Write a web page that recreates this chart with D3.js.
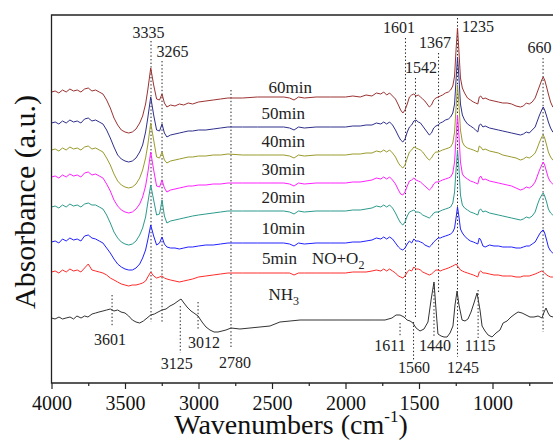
<!DOCTYPE html>
<html>
<head>
<meta charset="utf-8">
<script src="https://cdn.jsdelivr.net/npm/d3@7"></script>
<style>
  body { margin: 0; background: #fff; }
  svg { display: block; font-family: "Liberation Serif", "Times New Roman", serif; }
</style>
</head>
<body>
<svg id="chart" width="553" height="441"></svg>
<script>
// wavenumber grid shared by the NO+O2 time series (cm-1)
const wnTime = [4000,3975,3950,3925,3900,3875,3850,3825,3800,3775,3750,3725,3700,3675,3650,3625,3600,3575,3550,3525,
  3500,3475,3450,3425,3400,3380,3360,3345,3325,3305,3285,3265,3248,3232,3215,3190,3160,3130,3100,3070,
  3040,3000,2950,2900,2850,2800,2700,2600,2500,2420,2380,2350,2320,2280,2200,2100,2000,1950,1900,1860,
  1820,1790,1760,1740,1720,1700,1680,1660,1640,1625,1610,1595,1580,1565,1550,1535,1520,1505,1490,1475,
  1460,1445,1430,1415,1400,1385,1370,1355,1340,1320,1300,1285,1270,1258,1248,1238,1228,1218,1205,1190,
  1170,1150,1130,1115,1100,1090,1080,1065,1050,1020,990,960,930,900,870,840,810,790,770,750,
  730,710,695,680,665,655,645,632,620,605,590,575];

// absorbance (a.u., offset stacked)
const abs60 = [291,292,290,293,291,294,292,293,291,294,295,292,293,291,289,283,275,265,258,253,
  251,250,251,254,260,267,279,293,315,298,284,283,289,280,276,278,277,279,278,280,
  279,281,282,283,284,285,285,286,286,286,285,283,286,285,286,286,286,287,286,288,
  287,290,289,291,288,290,287,284,278,273,270,273,279,286,288,289,287,288,286,284,
  282,279,276,278,283,285,286,287,288,290,291,293,297,307,333,355,331,305,295,290,
  285,283,281,280,279,286,287,284,285,283,282,281,280,280,279,277,276,277,280,279,
  281,285,291,297,303,306,303,296,289,281,276,275];
const abs50 = [260,261,259,262,260,263,261,262,260,264,265,262,263,261,259,253,245,236,228,224,
  222,221,222,225,231,238,251,265,286,268,253,252,259,250,246,248,249,250,251,252,
  252,253,253,254,255,256,256,256,256,256,255,253,256,255,256,256,256,257,257,258,
  258,260,259,261,259,261,258,253,247,243,241,244,251,256,258,262,263,261,260,257,
  254,251,248,250,255,257,258,260,261,263,264,266,270,279,303,326,305,279,268,263,
  259,257,255,253,251,258,259,256,257,255,254,253,252,251,250,249,248,249,251,250,
  253,256,262,268,273,276,273,267,261,255,251,250];
const abs40 = [233,234,232,235,233,236,234,235,233,236,237,234,235,233,231,225,218,209,202,198,
  196,195,196,199,205,213,225,238,260,243,226,225,231,223,220,222,223,224,225,226,
  226,227,227,228,228,229,228,228,228,228,227,225,228,227,228,228,228,229,229,230,
  230,232,231,233,231,233,230,226,220,217,215,218,225,231,233,236,235,234,233,231,
  228,225,223,225,229,231,231,232,233,234,235,236,240,251,275,298,278,253,241,237,
  235,234,233,232,231,237,236,233,234,232,231,230,228,227,226,225,223,224,226,225,
  227,230,235,241,246,248,245,238,231,226,223,222];
const abs30 = [206,207,205,208,206,209,207,208,206,210,211,208,209,207,205,199,192,183,177,173,
  171,170,171,174,179,186,197,210,231,213,197,196,203,195,191,193,194,195,196,197,
  197,198,198,199,199,200,200,200,200,200,199,197,200,199,200,200,200,201,201,202,
  203,205,204,206,204,206,203,199,193,189,188,191,197,202,203,205,203,202,201,199,
  197,195,193,195,199,201,201,202,203,204,205,206,210,221,245,268,247,221,209,206,
  204,202,201,200,199,205,207,203,204,202,201,200,199,198,197,195,193,194,196,195,
  197,201,207,213,218,221,218,211,205,201,199,198];
const abs20 = [176,177,175,178,176,179,177,178,176,179,180,178,178,176,174,168,160,151,145,141,
  139,138,139,142,148,155,166,180,198,183,168,169,183,167,160,162,163,164,165,166,
  167,168,169,170,171,172,172,172,172,172,171,169,172,171,172,172,172,173,173,174,
  175,177,176,178,176,178,175,170,164,160,158,161,167,171,172,173,171,171,170,168,
  167,166,165,167,170,171,171,172,173,174,175,176,180,191,213,233,215,188,178,175,
  173,171,170,169,168,173,174,171,172,170,169,168,167,166,165,164,163,164,166,165,
  167,171,178,184,188,190,187,181,174,170,168,167];
const abs10 = [141,142,140,144,142,145,143,144,142,147,148,145,144,142,140,135,130,124,119,116,
  114,113,113,115,119,125,133,143,158,147,138,140,146,139,136,135,135,134,135,136,
  136,137,138,138,139,140,140,140,140,140,139,137,140,139,140,140,140,141,141,142,
  143,145,144,146,144,146,144,140,136,134,133,135,139,142,140,144,142,142,141,140,
  138,137,136,138,141,143,145,145,146,147,148,149,151,155,165,176,166,154,150,147,
  144,142,141,140,139,145,143,137,136,138,137,137,136,136,136,135,135,136,137,137,
  139,141,145,149,152,153,150,143,136,132,130,129];
const abs5 = [111,112,110,113,111,114,112,113,111,115,119,113,112,111,110,108,105,103,101,99,
  98,97,98,98,99,100,102,106,111,107,105,106,107,105,104,103,102,101,102,103,
  104,106,107,108,109,110,110,110,110,110,110,108,110,110,110,110,110,111,111,111,
  112,113,112,114,112,114,112,110,107,106,105,107,111,113,112,116,114,114,113,111,
  110,109,108,109,111,113,113,112,113,114,115,116,117,118,119,117,115,113,112,111,
  110,109,108,107,106,111,112,110,110,109,108,108,107,107,107,106,106,107,107,107,
  108,109,110,111,112,111,110,108,107,106,106,106];

// reference NH3 spectrum, own wavenumber grid
const wnNH3 = [4000,3976,3949,3925,3901,3874,3850,3827,3799,3775,3752,3724,3700,3677,3650,3625,3600,3575,3550,3527,
  3500,3475,3450,3425,3400,3375,3350,3325,3300,3275,3248,3221,3194,3167,3139,3119,3099,3078,3051,3031,
  3003,2976,2949,2922,2894,2867,2840,2813,2779,2718,2650,2582,2514,2446,2377,2309,2173,2037,1901,1799,
  1731,1684,1656,1629,1602,1581,1561,1541,1520,1493,1466,1439,1418,1398,1384,1371,1350,1330,1309,1289,
  1269,1255,1241,1228,1207,1187,1167,1146,1126,1105,1085,1071,1051,1030,1003,976,949,928,901,874,
  847,826,799,772,745,718,690,663,649,636,622,609,588];
const absNH3 = [65,64,66,64,65,66,64,67,65,67,66,69,70,71,72,73,74,72,73,71,
  70,67,63,61,60,62,65,68,69,71,73,74,77,79,82,84,80,76,72,70,
  67,61,56,53,51,51,52,53,55,54,55,56,57,61,62,63,63,63,63,63,
  63,65,68,68,66,63,62,60,55,52,54,61,83,101,73,49,47,46,46,50,
  57,78,92,78,63,62,64,71,80,90,73,57,52,48,46,50,53,60,62,66,
  69,71,70,68,66,66,67,65,71,75,70,67,66];

const seriesNames = ["60min", "50min", "40min", "30min", "20min", "10min", "5min", "NH3"];
const seriesValues = [abs60, abs50, abs40, abs30, abs20, abs10, abs5, absNH3];
const seriesColors = ["#9c3232", "#2f2f8c", "#9a9a2c", "#ff20ff", "#2b9a8c", "#2020ff", "#ff2a2a", "#333333"];

const majorTicks = [4000, 3500, 3000, 2500, 2000, 1500, 1000];
const minorTicks = [3750, 3250, 2750, 2250, 1750, 1250, 750];

// peak marks: text, where the dotted line sits (cm-1)
const peakText = ["3335", "3265", "2780", "1601", "1542", "1367", "1235", "660",
  "3601", "3125", "3012", "1611", "1560", "1440", "1245", "1115"];
const peakAt = [3323, 3248, 2779, 1592, 1524, 1367, 1238, 656,
  3588, 3124, 3003, 1629, 1537, 1398, 1238, 1098];

const svg = d3.select("#chart");

const x = d3.scaleLinear().domain([4000, 500]).range([51.5, 566]);
const y = d3.scaleLinear().domain([0, 368]).range([383, 15]);

// dotted guide lines and labels (pixel layout of each mark)
const peakLayout = [
  { y1: 41, y2: 322, dx: -2.5, ly: 38 },
  { y1: 61, y2: 322, dx: 10.5, ly: 57 },
  { y1: 90, y2: 347, dx: 4, ly: 368 },
  { y1: 38, y2: 318, dx: -6.5, ly: 33 },
  { y1: 78, y2: 318, dx: 5.5, ly: 73 },
  { y1: 53, y2: 292, dx: -3.5, ly: 48 },
  { y1: 18, y2: 357, dx: 20.5, ly: 32 },
  { y1: 58, y2: 332, dx: -3.5, ly: 53 },
  { y1: 295, y2: 326, dx: -2, ly: 345 },
  { y1: 306, y2: 353, dx: -3.6, ly: 369 },
  { y1: 302, y2: 330, dx: 6, ly: 348 },
  { y1: 323, y2: 336, dx: -10, ly: 351 },
  { y1: 322, y2: 360, dx: 0.5, ly: 373 },
  { y1: 284, y2: 338, dx: 1, ly: 351 },
  { y1: null, y2: null, dx: 5.5, ly: 373 },
  { y1: 290, y2: 338, dx: 2, ly: 351 }
];

const guides = svg.append("g");
peakText.forEach((t, i) => {
  const p = peakLayout[i];
  const px = x(peakAt[i]);
  if (p.y1 !== null) {
    guides.append("line")
      .attr("x1", px).attr("x2", px)
      .attr("y1", p.y1).attr("y2", p.y2)
      .attr("stroke", "#222")
      .attr("stroke-width", 1)
      .attr("stroke-dasharray", "1.4,2.2");
  }
  guides.append("text")
    .attr("x", px + p.dx)
    .attr("y", p.ly)
    .attr("text-anchor", "middle")
    .attr("font-size", 16)
    .attr("fill", "#222")
    .text(t);
});

// spectra
const line = d3.line().x(d => x(d[0])).y(d => y(d[1]));
seriesValues.forEach((vals, i) => {
  const wn = i === 7 ? wnNH3 : wnTime;
  svg.append("path")
    .datum(d3.zip(wn, vals))
    .attr("d", line)
    .attr("fill", "none")
    .attr("stroke", seriesColors[i])
    .attr("stroke-width", 1)
    .attr("stroke-linejoin", "round");
});

// curve labels
const labelLayout = [
  { w: 2228, y: 93 }, { w: 2275, y: 119 }, { w: 2275, y: 147 }, { w: 2275, y: 175 },
  { w: 2275, y: 203 }, { w: 2275, y: 234 }, { w: 2330, y: 264 }, { w: 2316, y: 300 }
];
seriesNames.forEach((name, i) => {
  const t = svg.append("text")
    .attr("x", x(labelLayout[i].w))
    .attr("y", labelLayout[i].y)
    .attr("text-anchor", "end")
    .attr("font-size", 17)
    .attr("fill", "#222");
  if (name === "NH3") {
    t.append("tspan").text("NH");
    t.append("tspan").attr("font-size", 12).attr("dy", 5).text("3");
  } else {
    t.text(name);
  }
});
const gas = svg.append("text")
  .attr("x", x(2228))
  .attr("y", 264)
  .attr("font-size", 17)
  .attr("fill", "#222");
gas.append("tspan").text("NO+O");
gas.append("tspan").attr("font-size", 12).attr("dy", 5).text("2");

// frame
svg.append("path")
  .attr("d", `M${x(500)},${y(368)}H${x(4000)}V${y(0)}H${x(500)}`)
  .attr("fill", "none")
  .attr("stroke", "#222")
  .attr("stroke-width", 1.3);

// x axis
const axisMajor = svg.append("g")
  .attr("transform", `translate(0,${y(0)})`)
  .call(d3.axisBottom(x).tickValues(majorTicks).tickSize(6).tickPadding(7).tickFormat(d3.format("d")));
const axisMinor = svg.append("g")
  .attr("transform", `translate(0,${y(0)})`)
  .call(d3.axisBottom(x).tickValues(minorTicks).tickSize(3).tickFormat(""));
[axisMajor, axisMinor].forEach(g => {
  g.attr("font-family", null);
  g.select(".domain").remove();
  g.selectAll("line").attr("stroke", "#222").attr("stroke-width", 1.2);
  g.selectAll("text")
    .attr("font-size", 20)
    .attr("fill", "#111");
});
axisMinor.selectAll("text").remove();

// axis titles
const xt = svg.append("text")
  .attr("x", 291)
  .attr("y", 434)
  .attr("text-anchor", "middle")
  .attr("font-size", 28)
  .attr("fill", "#111");
xt.append("tspan").text("Wavenumbers (cm");
xt.append("tspan").attr("font-size", 17).attr("dy", -12).text("-1");
xt.append("tspan").attr("dy", 12).text(")");

svg.append("text")
  .attr("transform", "translate(35,202) rotate(-90)")
  .attr("text-anchor", "middle")
  .attr("font-size", 30)
  .attr("fill", "#111")
  .text("Absorbance (a.u.)");
</script>
</body>
</html>
